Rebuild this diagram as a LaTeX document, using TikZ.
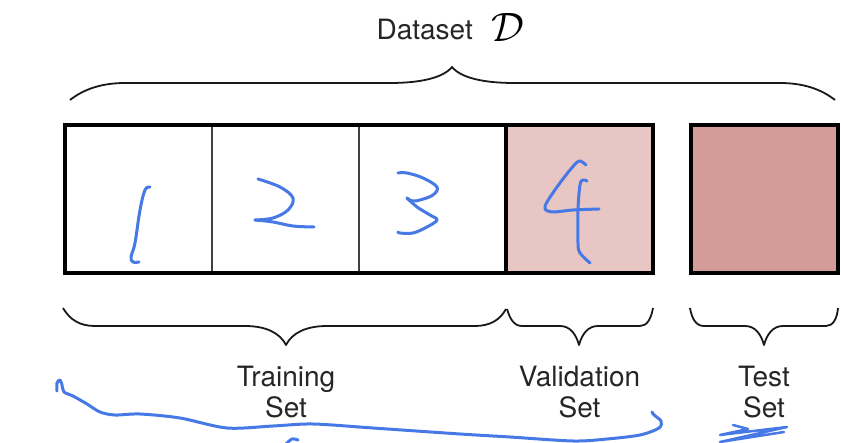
\documentclass[tikz,border=0pt]{standalone}
\usepackage{amsmath, amssymb}
\usepackage{fontspec}
\setmainfont{TeX Gyre Heros}
\usepackage{tikz}

\definecolor{penblue}{RGB}{70,120,230}
\definecolor{valpink}{RGB}{232,198,196}
\definecolor{testrose}{RGB}{212,156,153}

\begin{document}
\begin{tikzpicture}[x=1pt, y=-1pt]
  % Define styles
  \tikzstyle{fold} = [rectangle, draw=black!75, line width=2pt, fill=white, minimum width=147pt, minimum height=148pt, inner sep=0pt, outer sep=0pt]
  \tikzstyle{heavy} = [draw=black, line width=4pt]
  \tikzstyle{setlabel} = [align=center, font=\fontsize{28}{31}\selectfont, text=black!85, inner sep=0pt, anchor=base]
  \tikzstyle{curly} = [draw=black!90, line width=1.8pt, line join=round]
  \tikzstyle{pen} = [draw=penblue, line width=3pt, line cap=round, line join=round]

  \useasboundingbox (0,0) rectangle (841,443);

  % Folds of the data
  \node[fold] (fold1) at (138.5,199) {};
  \node[fold] (fold2) at (285.5,199) {};
  \node[fold] (fold3) at (432.5,199) {};
  \node[fold, heavy, fill=valpink] (valbox) at (579.5,199) {};
  \draw[heavy] (fold1.north west) rectangle (valbox.south east);

  % Held-out test part
  \node[fold, heavy, fill=testrose] (testbox) at (764.5,199) {};

  % Title over the whole set
  \node[setlabel, anchor=base east] (datalbl) at (473,40) {Dataset};
  \node[inner sep=0pt, anchor=base west, font=\fontsize{24.88}{26}\selectfont] (datasym) at (491,42) {\scalebox{1.65}{$\mathcal{D}$}};

  % Top brace
  \draw[curly] (70,100) .. controls (84,89) and (102,83) .. (125,83) -- (390,83)
    .. controls (420,83) and (443,78) .. (452,67)
    .. controls (461,78) and (484,83) .. (514,83) -- (780,83)
    .. controls (803,83) and (821,89) .. (835,100);

  % Bottom braces
  \draw[curly] (63,308) .. controls (70,320) and (80,326) .. (95,326) -- (245,326)
    .. controls (266,326) and (280,333) .. (286,345)
    .. controls (292,333) and (306,326) .. (327,326) -- (475,326)
    .. controls (490,326) and (500,320) .. (506,309);
  \draw[curly] (507,309) .. controls (510,319) and (514,326) .. (522,326) -- (560,326)
    .. controls (570,326) and (576,334) .. (579,345)
    .. controls (582,334) and (588,326) .. (598,326) -- (640,326)
    .. controls (647,326) and (651,319) .. (653,308);
  \draw[curly] (690,308) .. controls (692,319) and (696,326) .. (704,326) -- (745,326)
    .. controls (755,326) and (761,334) .. (764,345)
    .. controls (767,334) and (773,326) .. (783,326) -- (826,326)
    .. controls (833,326) and (837,319) .. (838,308);

  \node[setlabel] (trainlbl) at (286,418) {Training\\Set};
  \node[setlabel] (vallbl) at (579.5,418) {Validation\\Set};
  \node[setlabel] (testlbl) at (764,418) {Test\\Set};

  % Pen marks: fold numbers
  \draw[pen] plot[smooth, tension=0.6] coordinates {(150,187) (145,190) (140,210) (135,243) (131,257) (133,262) (139,262)};
  \draw[pen] plot[smooth, tension=0.6] coordinates {(258,179) (280,187) (293,198) (288,210) (273,218) (255,220)};
  \draw[pen] plot[smooth, tension=0.6] coordinates {(255,220) (273,222) (293,226) (314,227)};
  \draw[pen] plot[smooth, tension=0.6] coordinates {(398,173) (407,173) (423,178) (437,187) (433,195) (420,200) (412,201) (407,198)};
  \draw[pen] plot[smooth, tension=0.6] coordinates {(407,198) (417,207) (430,215) (437,220) (427,227) (413,233) (400,233) (398,232)};
  \draw[pen] plot[smooth, tension=0.5] coordinates {(586,165) (579,161) (570,170) (557,187) (547,202) (545,209) (553,212) (573,210) (599,209)};
  \draw[pen] plot[smooth, tension=0.6] coordinates {(587,181) (583,180) (580,185) (578,210) (578,243) (580,253) (590,263)};

  % Pen marks: underline scribbles
  \draw[pen] plot[smooth, tension=0.5] coordinates {(57,391) (57,383) (60,380) (62,385) (64,392) (73,396) (87,404) (100,412) (115,415) (140,414) (180,418) (227,428) (273,426) (313,424) (373,428) (460,434) (510,437) (573,441) (607,439) (640,435) (659,428) (661,421) (654,415) (652,412)};
  \draw[pen] plot[smooth] coordinates {(286,444) (292,439) (298,440)};
  \draw[pen, line width=2.5pt] (733,425) -- (748,429) -- (720,435) -- (787,427) -- (720,442) -- (784,432);

\end{tikzpicture}
\end{document}
